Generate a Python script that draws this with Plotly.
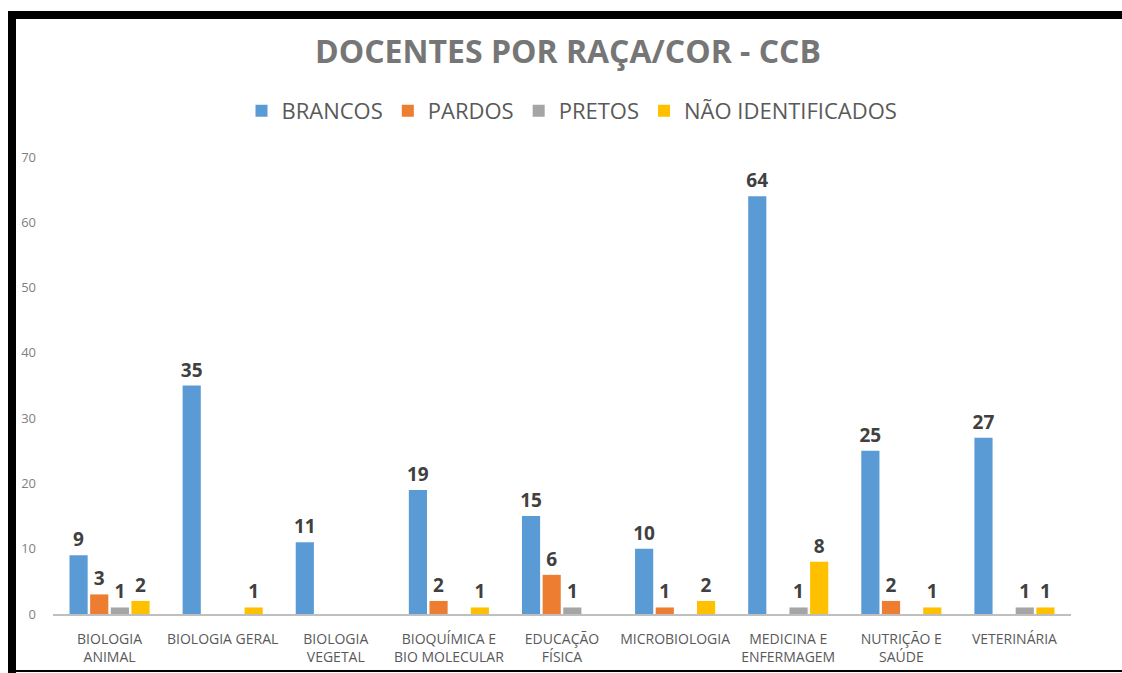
import plotly.graph_objects as go

categories = ["BIOLOGIA<br>ANIMAL", "BIOLOGIA GERAL", "BIOLOGIA<br>VEGETAL",
              "BIOQUÍMICA E<br>BIO MOLECULAR", "EDUCAÇÃO<br>FÍSICA", "MICROBIOLOGIA",
              "MEDICINA E<br>ENFERMAGEM", "NUTRIÇÃO E<br>SAÚDE", "VETERINÁRIA"]
series_names = ["BRANCOS", "PARDOS", "PRETOS", "NÃO IDENTIFICADOS"]
brancos = [9, 35, 11, 19, 15, 10, 64, 25, 27]
pardos = [3, 0, 0, 2, 6, 1, 0, 2, 0]
pretos = [1, 0, 0, 0, 1, 0, 1, 0, 1]
nao_ident = [2, 1, 0, 1, 0, 2, 8, 1, 1]
colors = ["#5B9BD5", "#ED7D31", "#A5A5A5", "#FFC000"]
y_ticks = [0, 10, 20, 30, 40, 50, 60, 70]

W, H = 1122, 673
PL, PR, PT, PB = 53, 1071, 157, 614   # plot area in pixels
L, R, T, B = PL, W - PR, PT, H - PB
pw, ph = PR - PL, PB - PT

def px_x(p):
    return (p - PL) / pw

def px_y(p):
    return (PB - p) / ph

fig = go.Figure()
for name, vals, col in zip(series_names, [brancos, pardos, pretos, nao_ident], colors):
    fig.add_trace(go.Bar(
        name=name, x=categories, y=vals,
        marker=dict(color=col, line=dict(width=0)),
        text=[str(v) if v else "" for v in vals],
        textposition="outside", cliponaxis=False, constraintext="none",
        textfont=dict(family="Open Sans", size=19, color="#404040", weight="bold"),
    ))

frame = [
    dict(x0=px_x(8), x1=px_x(1130), y0=px_y(19), y1=px_y(11)),
    dict(x0=px_x(8), x1=px_x(16), y0=px_y(680), y1=px_y(11)),
    dict(x0=px_x(8), x1=px_x(1130), y0=px_y(672), y1=px_y(670)),
]
shapes = [dict(type="rect", xref="paper", yref="paper", fillcolor="#000000",
               line=dict(width=0), layer="above", **f) for f in frame]

fig.update_layout(
    width=W, height=H,
    margin=dict(l=L, r=R, t=T, b=B, autoexpand=False),
    paper_bgcolor="white", plot_bgcolor="white",
    font=dict(family="Open Sans", color="#595959"),
    title=dict(text="<b>DOCENTES POR RAÇA/COR - CCB</b>",
               x=568 / W, xanchor="center", xref="container",
               y=1 - 52 / H, yanchor="middle", yref="container",
               font=dict(family="Open Sans", size=32, color="#767676")),
    barmode="group", bargap=0.27, bargroupgap=0.12,
    legend=dict(orientation="h", x=px_x(572), xanchor="center",
                y=px_y(111), yanchor="middle",
                font=dict(family="Open Sans", size=22, color="#595959"),
                itemclick=False),
    shapes=shapes,
    showlegend=True,
)
fig.update_xaxes(showline=True, linecolor="#BFBFBF", linewidth=2, automargin=False,
                 showgrid=False, ticks="", ticklabelstandoff=11,
                 tickfont=dict(family="Open Sans", size=14, color="#595959"))
fig.update_yaxes(range=[0, 70], tickvals=y_ticks, showgrid=False, zeroline=False,
                 showline=False, ticks="", ticklabelstandoff=16, automargin=False,
                 tickfont=dict(family="Open Sans", size=13, color="#7F7F7F"))

fig.write_html("out.html", config={"displayModeBar": False},
               post_script="document.body.style.margin='0';"
                           "document.body.style.overflow='hidden';")
